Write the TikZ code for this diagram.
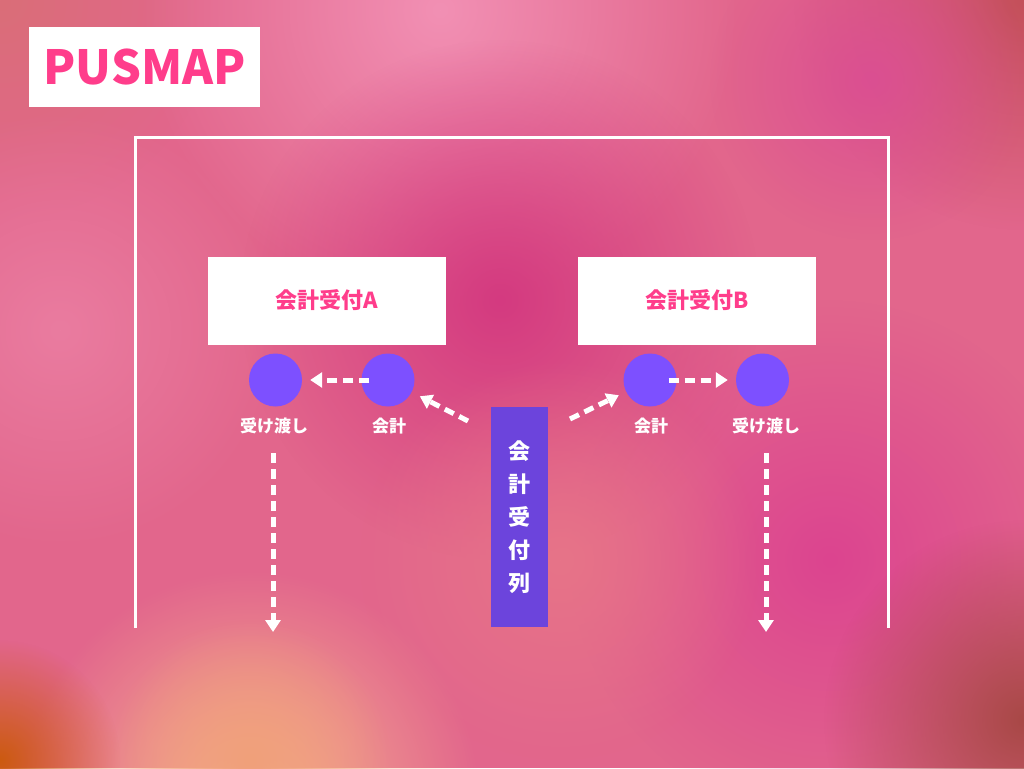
\documentclass[tikz,border=0pt]{standalone}
\usepackage{fontspec}
\setmainfont{Noto Sans CJK JP}
\usetikzlibrary{arrows.meta,fadings}
\tikzfading[name=blob, inner color=transparent!0, outer color=transparent!100]
\definecolor{bgbase}{HTML}{E2668C}
\definecolor{pinktxt}{HTML}{FF3D8B}
\definecolor{dotc}{HTML}{7D50FF}
\definecolor{queuec}{HTML}{6C44DC}
\definecolor{b1}{HTML}{DA6E78}
\definecolor{b2}{HTML}{F290B4}
\definecolor{b3}{HTML}{C4505A}
\definecolor{b4}{HTML}{DB4F92}
\definecolor{b5}{HTML}{D43A80}
\definecolor{b6}{HTML}{EA7CA0}
\definecolor{b7}{HTML}{DC4490}
\definecolor{b8}{HTML}{E77488}
\definecolor{b9}{HTML}{F7B690}
\definecolor{b10}{HTML}{F0A07A}
\definecolor{b11}{HTML}{CC5A10}
\definecolor{b12}{HTML}{A84846}
\tikzset{
  whitebox/.style={fill=white, minimum width=238pt, minimum height=88pt, inner sep=0pt, text=pinktxt, font=\bfseries\fontsize{22}{26}\selectfont},
  dot/.style={circle, fill=dotc, minimum size=53pt, inner sep=0pt},
  lbl/.style={text=white, font=\bfseries\fontsize{17}{19}\selectfont, inner sep=0pt},
  queue/.style={fill=queuec, minimum width=57pt, minimum height=220pt, inner sep=0pt, text=white, align=center, font=\bfseries\fontsize{22}{33}\selectfont},
  arr/.style={draw=white, line width=5pt, dash pattern=on 10pt off 6pt, -{Triangle[length=12pt,width=15pt]}},
  frame/.style={draw=white, line width=3pt},
  blobfill/.style={fill=#1, path fading=blob}
}
\begin{document}
\begin{tikzpicture}[x=1pt,y=-1pt]
\useasboundingbox (0,0) rectangle (1024,768);
\fill[bgbase] (0,0) rectangle (1024,768);
\begin{scope}
\clip (0,0) rectangle (1024,768);
\fill[blobfill=b1] (0,0) circle (220pt);
\fill[blobfill=b2] (440,10) circle (300pt);
\fill[blobfill=b3] (1024,0) circle (230pt);
\fill[blobfill=b4] (870,80) circle (160pt);
\fill[blobfill=b5] (500,300) circle (260pt);
\fill[blobfill=b6] (60,330) circle (220pt);
\fill[blobfill=b7] (830,560) circle (260pt);
\fill[blobfill=b8] (560,560) circle (200pt);
\fill[blobfill=b9] (250,800) circle (230pt);
\fill[blobfill=b10] (250,760) circle (140pt);
\fill[blobfill=b11] (0,760) circle (120pt);
\fill[blobfill=b12] (1024,720) circle (200pt);
\end{scope}

% title
\node[fill=white, minimum width=231pt, minimum height=80pt, inner sep=0pt, text=pinktxt, font=\bfseries\fontsize{47}{52}\selectfont] (title) at (144.5,67) {PUSMAP};

% frame
\coordinate (fbl) at (135,628);
\coordinate (ftl) at (135,137);
\coordinate (ftr) at (888,137);
\coordinate (fbr) at (888,628);
\draw[frame] (fbl) -- (ftl) -- (ftr) -- (fbr);

% reception boxes
\node[whitebox] (recA) at (327,300.5) {会計受付A};
\node[whitebox] (recB) at (697,300.5) {会計受付B};

% dots
\node[dot] (uA) at (275.5,380) {};
\node[dot] (kA) at (388,380) {};
\node[dot] (kB) at (650,380) {};
\node[dot] (uB) at (762.5,380) {};

% labels
\node[lbl] (luA) at (274,426) {受け渡し};
\node[lbl] (lkA) at (389,426) {会計};
\node[lbl] (lkB) at (651,426) {会計};
\node[lbl] (luB) at (766,426) {受け渡し};

% queue
\node[queue] (q) at (519.5,517) {会\\計\\受\\付\\列};

% arrows
\coordinate (qa) at (468,421);
\coordinate (qb) at (570,419);
\draw[arr, shorten >=9pt] (qa) -- (kA);
\draw[arr, shorten >=8pt] (qb) -- (kB);
\draw[arr, shorten <=-8pt, shorten >=8pt] (kA) -- (uA);
\draw[arr, shorten <=-8pt, shorten >=8pt] (kB) -- (uB);
\coordinate (sA) at (273,453);
\coordinate (eA) at (273,632);
\coordinate (sB) at (766,453);
\coordinate (eB) at (766,632);
\draw[arr] (sA) -- (eA);
\draw[arr] (sB) -- (eB);
\end{tikzpicture}
\end{document}
